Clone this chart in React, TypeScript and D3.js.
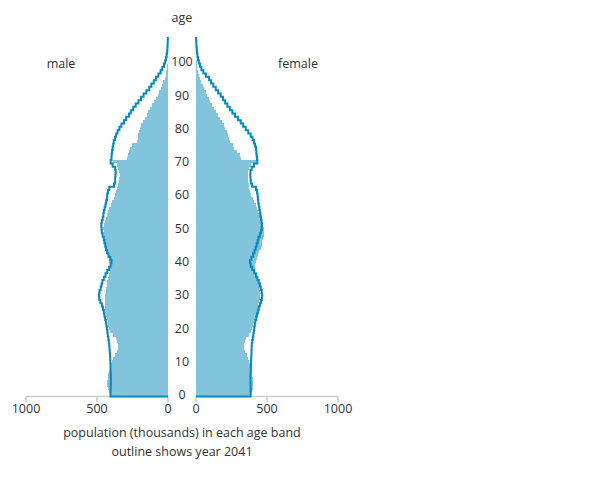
import React from "react";
import * as d3 from "d3";

// base year (bars), ages 0..100, thousands
const maleBase = [
  408, 415, 422, 428, 428, 425, 420, 414, 408, 400,
  392, 388, 375, 362, 355, 354, 358, 368, 390, 405,
  415, 420, 426, 432, 438, 444, 446, 445, 444, 444,
  442, 440, 436, 432, 430, 425, 415, 410, 406, 408,
  412, 418, 424, 428, 434, 438, 442, 445, 450, 454,
  456, 452, 446, 440, 432, 422, 412, 402, 392, 382,
  372, 364, 358, 350, 345, 342, 340, 342, 350, 360,
  388, 290, 285, 278, 270, 255, 215, 212, 210, 205,
  198, 188, 176, 164, 150, 138, 124, 110, 97, 84,
  72, 60, 51, 42, 33, 24, 16, 11, 7, 4,
  3,
];
const femaleBase = [
  386, 392, 398, 402, 403, 400, 396, 392, 386, 380,
  374, 368, 356, 346, 340, 340, 345, 355, 370, 384,
  394, 402, 410, 416, 422, 428, 434, 440, 446, 450,
  452, 450, 447, 444, 438, 430, 420, 415, 413, 416,
  424, 432, 440, 447, 455, 462, 468, 474, 478, 480,
  478, 472, 465, 458, 450, 440, 430, 420, 410, 400,
  390, 382, 376, 370, 366, 364, 363, 366, 374, 388,
  428, 318, 310, 292, 270, 262, 238, 234, 228, 218,
  206, 195, 182, 170, 156, 143, 130, 116, 102, 90,
  79, 68, 57, 46, 36, 28, 20, 13, 9, 6,
  4,
];
// 2041 projection (outline), ages 0..107
const male2041 = [
  405, 404, 403, 403, 402, 402, 403, 404, 405, 405,
  406, 407, 408, 410, 412, 414, 417, 420, 424, 427,
  430, 434, 438, 443, 448, 452, 458, 466, 476, 484,
  486, 482, 474, 468, 462, 452, 440, 428, 415, 404,
  398, 406, 420, 430, 437, 442, 448, 452, 460, 466,
  468, 470, 466, 460, 455, 452, 446, 440, 435, 430,
  428, 422, 414, 380, 372, 372, 370, 368, 372, 390,
  404, 398, 397, 394, 390, 386, 382, 373, 365, 355,
  342, 328, 310, 295, 275, 262, 245, 228, 208, 190,
  172, 152, 132, 117, 100, 85, 68, 52, 40, 28,
  20, 14, 10, 6, 4, 3, 2, 1,
];
const female2041 = [
  385, 385, 384, 384, 383, 383, 384, 385, 386, 387,
  388, 389, 390, 391, 392, 393, 396, 400, 404, 407,
  410, 414, 418, 424, 430, 436, 442, 450, 458, 464,
  466, 462, 456, 450, 442, 432, 422, 410, 396, 385,
  380, 390, 402, 412, 420, 427, 434, 440, 450, 458,
  462, 464, 462, 458, 454, 450, 446, 442, 439, 436,
  434, 430, 422, 395, 386, 384, 382, 384, 392, 408,
  432, 430, 427, 425, 423, 416, 408, 398, 385, 368,
  350, 332, 315, 295, 275, 256, 238, 221, 205, 190,
  174, 156, 139, 122, 106, 92, 70, 52, 38, 28,
  20, 14, 10, 7, 5, 3, 2, 1,
];
const ageTicks = [0, 10, 20, 30, 40, 50, 60, 70, 80, 90, 100];
const popTicks = [0, 500, 1000];

const BAR = "#82c4db";
const LINE = "#0a8abb";
const TEXT = "#333";
const FONT = "'Open Sans', sans-serif";
const FS = 12.5;

export default function App() {
  const y = d3.scaleLinear().domain([0, 108]).range([396.5, 36.9]);
  const xL = d3.scaleLinear().domain([0, 1000]).range([168, 26]);
  const xR = d3.scaleLinear().domain([0, 1000]).range([196, 338]);

  const outline = (vals: number[], x: d3.ScaleLinear<number, number>) => {
    const pts: [number, number][] = [[x(0), y(0)]];
    vals.forEach((v, a) => pts.push([x(v), y(a)]));
    pts.push([x(vals[vals.length - 1]), y(vals.length)]);
    return d3.line().curve(d3.curveStepBefore)(pts) || "";
  };

  const axis = (x: d3.ScaleLinear<number, number>, key: string) => (
    <g key={key}>
      <line x1={x(0)} x2={x(1000)} y1={396.5} y2={396.5} stroke="#ccc" strokeWidth={1.5} />
      {popTicks.map((t) => (
        <g key={t}>
          <line x1={x(t)} x2={x(t)} y1={396.5} y2={402} stroke="#ccc" strokeWidth={1.5} />
          <text x={x(t)} y={413} textAnchor="middle" fontSize={FS} fill={TEXT}>
            {t}
          </text>
        </g>
      ))}
    </g>
  );

  return (
    <svg
      width={600}
      height={480}
      style={{ position: "absolute", left: 0, top: 0, fontFamily: FONT }}
    >
      {axis(xL, "l")}
      {axis(xR, "r")}
      <g shapeRendering="crispEdges">
        {maleBase.map((v, a) => (
          <rect key={"m" + a} x={xL(v)} y={y(a + 1)} width={xL(0) - xL(v)} height={y(a) - y(a + 1)} fill={BAR} />
        ))}
        {femaleBase.map((v, a) => (
          <rect key={"f" + a} x={xR(0)} y={y(a + 1)} width={xR(v) - xR(0)} height={y(a) - y(a + 1)} fill={BAR} />
        ))}
      </g>
      <path d={outline(male2041, xL)} fill="none" stroke={LINE} strokeWidth={2} />
      <path d={outline(female2041, xR)} fill="none" stroke={LINE} strokeWidth={2} />
      {ageTicks.map((a) => (
        <text key={a} x={182} y={y(a + 0.5)} dy="0.35em" textAnchor="middle" fontSize={FS} fill={TEXT}>
          {a}
        </text>
      ))}
      <text x={182} y={22} textAnchor="middle" fontSize={FS} fill={TEXT}>age</text>
      <text x={61} y={68} textAnchor="middle" fontSize={FS} fill={TEXT}>male</text>
      <text x={298} y={68} textAnchor="middle" fontSize={FS} fill={TEXT}>female</text>
      <text x={182} y={437} textAnchor="middle" fontSize={FS} fill={TEXT}>
        population (thousands) in each age band
      </text>
      <text x={182} y={456} textAnchor="middle" fontSize={FS} fill={TEXT}>
        outline shows year 2041
      </text>
    </svg>
  );
}
